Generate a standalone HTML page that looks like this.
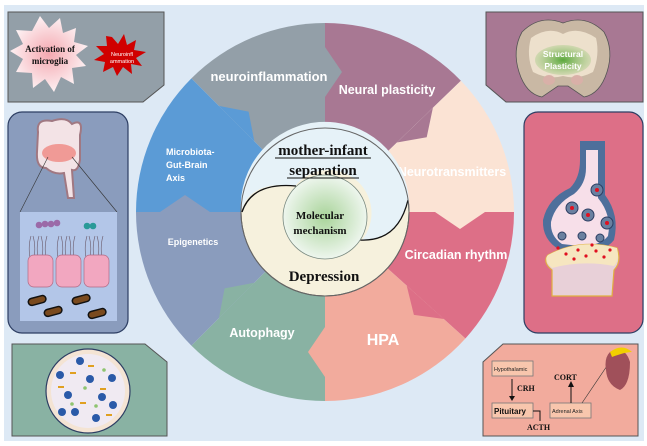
<!DOCTYPE html>
<html><head><meta charset="utf-8"><style>
html,body{margin:0;padding:0;background:#fff}
svg{display:block}
text{font-family:"Liberation Sans",sans-serif}
.w{fill:#fff;font-weight:bold}
.s{font-family:"Liberation Serif",serif;font-weight:bold;fill:#111}
</style></head><body>
<svg width="647" height="446" viewBox="0 0 647 446" xmlns="http://www.w3.org/2000/svg">
<defs>
<radialGradient id="g1" cx="50%" cy="50%" r="50%"><stop offset="0" stop-color="#a9d49a"/><stop offset="1" stop-color="#eef6ee"/></radialGradient>
<radialGradient id="mg" cx="50%" cy="50%" r="50%"><stop offset="0" stop-color="#f4a8b0"/><stop offset="1" stop-color="#fdf0f2"/></radialGradient>
<radialGradient id="sg" cx="50%" cy="50%" r="50%"><stop offset="0" stop-color="#5aa83c"/><stop offset="1" stop-color="#8fc470" stop-opacity="0.3"/></radialGradient>
</defs>
<rect x="0" y="0" width="647" height="446" fill="#fff"/>
<rect x="4" y="5" width="640" height="436" fill="#dde9f5"/>

<g>
<path d="M325,212 L191.4,78.4 A189,189 0 0 1 325,23 Z" fill="#939fa8"/>
<path d="M325,212 L325,23 A189,189 0 0 1 460.9,80.7 Z" fill="#a87893"/>
<path d="M325,212 L460.9,80.7 A189,189 0 0 1 514,212 Z" fill="#fbe3d4"/>
<path d="M325,212 L514,212 A189,189 0 0 1 465.4,338.5 Z" fill="#dd6f87"/>
<path d="M325,212 L465.4,338.5 A189,189 0 0 1 325,401 Z" fill="#f2ab9d"/>
<path d="M325,212 L325,401 A189,189 0 0 1 191.4,345.6 Z" fill="#89b2a3"/>
<path d="M325,212 L191.4,345.6 A189,189 0 0 1 136,212 Z" fill="#8a9cbd"/>
<path d="M325,212 L136,212 A189,189 0 0 1 191.4,78.4 Z" fill="#5b9bd6"/>
<polygon points="325,97 325,47 342,72" fill="#939fa8"/>
<polygon points="396.9,142.5 432.9,107.8 426.7,137.3" fill="#a87893"/>
<polygon points="435,212 485,212 460,229" fill="#fbe3d4"/>
<polygon points="406.7,285.6 443.9,319 413.9,314.9" fill="#dd6f87"/>
<polygon points="325,327 325,377 308,352" fill="#f2ab9d"/>
<polygon points="254.3,282.7 218.9,318.1 224.6,288.4" fill="#89b2a3"/>
<polygon points="210,212 160,212 185,195" fill="#8a9cbd"/>
<polygon points="254.3,141.3 218.9,105.9 248.6,111.6" fill="#5b9bd6"/>
</g>
<text class="w" x="269" y="81" font-size="13" text-anchor="middle">neuroinflammation</text>
<text class="w" x="387" y="94" font-size="12.5" text-anchor="middle">Neural plasticity</text>
<text class="w" x="452" y="176" font-size="12.5" text-anchor="middle">Neurotransmitters</text>
<text class="w" x="456" y="259" font-size="12.5" text-anchor="middle">Circadian rhythm</text>
<text class="w" x="383" y="345" font-size="16" text-anchor="middle">HPA</text>
<text class="w" x="262" y="337" font-size="12.5" text-anchor="middle">Autophagy</text>
<text class="w" x="193" y="245" font-size="9" text-anchor="middle">Epigenetics</text>
<text class="w" x="166" y="155" font-size="9">Microbiota-</text>
<text class="w" x="166" y="168" font-size="9">Gut-Brain</text>
<text class="w" x="166" y="181" font-size="9">Axis</text>

<circle cx="325" cy="212" r="84" fill="#f6f1dd" stroke="#555" stroke-width="1"/>
<path d="M241,212 Q250,180 295,186 A42,42 0 0 1 362,240 Q398,240 409,200 A84,84 0 0 0 241,212 Z" fill="#e6f2f8"/>
<path d="M242,212 Q252,182 296,186" fill="none" stroke="#111" stroke-width="1.3"/>
<path d="M360,240 Q398,242 408,200" fill="none" stroke="#111" stroke-width="1.3"/>
<circle cx="325" cy="212" r="84" fill="none" stroke="#666" stroke-width="1"/>
<circle cx="325" cy="217" r="42" fill="url(#g1)" stroke="#7a8a80" stroke-width="0.8"/>
<text class="s" x="323" y="155" font-size="15" text-anchor="middle">mother-infant</text>
<line x1="275" y1="158" x2="371" y2="158" stroke="#111"/>
<text class="s" x="323" y="175" font-size="15" text-anchor="middle">separation</text>
<line x1="287" y1="178" x2="359" y2="178" stroke="#111"/>
<text class="s" x="320" y="219" font-size="11" text-anchor="middle">Molecular</text>
<text class="s" x="320" y="234" font-size="11" text-anchor="middle">mechanism</text>
<text class="s" x="324" y="281" font-size="15" text-anchor="middle">Depression</text>

<!-- left top panel -->
<path d="M8,12 H164 V85 L143,102 H8 Z" fill="#939fa8" stroke="#555" stroke-width="1"/>
<polygon points="40,16 49,28 60,18 63,33 76,28 74,42 88,46 76,55 86,66 72,68 74,84 61,77 54,92 45,79 33,88 32,73 16,72 23,59 10,51 23,44 16,30 32,31" fill="url(#mg)"/>
<text x="50" y="52" font-size="9" class="s" text-anchor="middle">Activation of</text>
<text x="50" y="64" font-size="9" class="s" text-anchor="middle">microglia</text>
<polygon points="112,37 118,44 124,34 127,45 136,40 134,50 146,52 136,58 142,66 131,64 132,74 123,67 117,76 113,67 103,72 105,62 94,60 104,54 96,46 107,46 106,36" fill="#d00000"/>
<text x="122" y="56" font-size="5.5" fill="#fff" text-anchor="middle">Neuroinfl</text>
<text x="122" y="63" font-size="5.5" fill="#fff" text-anchor="middle">ammation</text>

<!-- left middle panel -->
<rect x="8" y="112" width="120" height="221" rx="14" fill="#8a9cbd" stroke="#2d3e63" stroke-width="1.2"/>
<path d="M38,132 Q36,118 52,121 Q66,116 72,124 Q84,118 80,135 L80,160 Q78,172 72,170 L74,198 L68,198 L64,173 Q54,175 46,168 Q36,168 37,152 Z" fill="#f3e3e6" stroke="#a07882" stroke-width="2"/>
<ellipse cx="59" cy="153" rx="17" ry="9" fill="#f09a96"/>
<line x1="48" y1="157" x2="20" y2="212" stroke="#333" stroke-width="0.6"/>
<line x1="72" y1="157" x2="117" y2="212" stroke="#333" stroke-width="0.6"/>
<rect x="20" y="212" width="97" height="109" fill="#b3c6e8"/>
<g fill="#9b6aa8"><circle cx="39" cy="225" r="3.3"/><circle cx="45" cy="224" r="3.3"/><circle cx="51" cy="224" r="3.3"/><circle cx="57" cy="223" r="3.3"/></g>
<g fill="#2a9a98"><circle cx="87" cy="226" r="3.3"/><circle cx="93" cy="226" r="3.3"/></g>
<g stroke="#6a5a6a" stroke-width="0.6" fill="none">
<path d="M30,258 q-2,-12 1,-22 M34,258 q2,-12 -1,-22 M38,258 q-2,-12 1,-22 M42,258 q2,-12 -1,-22 M46,258 q-2,-12 1,-22"/>
<path d="M58,258 q-2,-12 1,-22 M62,258 q2,-12 -1,-22 M66,258 q-2,-12 1,-22 M70,258 q2,-12 -1,-22 M74,258 q-2,-12 1,-22"/>
<path d="M86,258 q-2,-12 1,-22 M90,258 q2,-12 -1,-22 M94,258 q-2,-12 1,-22 M98,258 q2,-12 -1,-22 M102,258 q-2,-12 1,-22"/>
</g>
<g fill="#f2a7c0" stroke="#b06a85" stroke-width="0.7">
<rect x="28" y="255" width="25" height="32" rx="6"/><rect x="56" y="255" width="25" height="32" rx="6"/><rect x="84" y="255" width="25" height="32" rx="6"/>
</g>
<g fill="#7a4a1e" stroke="#111" stroke-width="1.5">
<rect x="28" y="297" width="18" height="7" rx="3.5" transform="rotate(-15 37 300)"/>
<rect x="72" y="296" width="18" height="7" rx="3.5" transform="rotate(-15 81 299)"/>
<rect x="44" y="308" width="18" height="7" rx="3.5" transform="rotate(-15 53 311)"/>
<rect x="88" y="310" width="18" height="7" rx="3.5" transform="rotate(-15 97 313)"/>
</g>

<!-- left bottom panel -->
<path d="M12,344 H145 L167,362 V436 H12 Z" fill="#89b2a3" stroke="#555" stroke-width="1"/>
<circle cx="88" cy="391" r="42" fill="#f4e4d4" stroke="#2d3e63" stroke-width="1.2"/>
<circle cx="88" cy="391" r="37" fill="#f0eaf2"/>
<g fill="#2a5aa8">
<circle cx="80" cy="361" r="4"/><circle cx="60" cy="375" r="4"/><circle cx="90" cy="379" r="4"/><circle cx="112" cy="378" r="4"/><circle cx="68" cy="395" r="4"/><circle cx="102" cy="397" r="4"/><circle cx="75" cy="412" r="4"/><circle cx="96" cy="418" r="4"/><circle cx="113" cy="405" r="4"/><circle cx="62" cy="412" r="4"/>
</g>
<g fill="#e0a020"><rect x="70" y="372" width="6" height="2"/><rect x="100" y="388" width="6" height="2"/><rect x="80" y="402" width="6" height="2"/><rect x="58" y="386" width="6" height="2"/><rect x="106" y="414" width="6" height="2"/><rect x="88" y="365" width="6" height="2"/></g>
<g fill="#8fc470"><circle cx="85" cy="388" r="1.8"/><circle cx="72" cy="404" r="1.8"/><circle cx="96" cy="406" r="1.8"/><circle cx="104" cy="370" r="1.8"/></g>

<!-- right top panel -->
<path d="M486,12 H643 V102 H506 L486,85 Z" fill="#a87893" stroke="#555" stroke-width="1"/>
<path d="M522,32 Q540,14 563,23 Q586,14 604,32 Q614,50 607,72 Q600,94 584,97 L568,86 L558,86 L542,97 Q526,94 519,72 Q512,50 522,32 Z" fill="#c9b8a4" stroke="#555" stroke-width="0.8"/>
<path d="M531,38 Q548,26 563,34 Q578,26 596,38 Q600,55 593,72 Q578,80 563,76 Q548,80 533,72 Q526,55 531,38 Z" fill="#ede0cc"/>
<ellipse cx="563" cy="60" rx="28" ry="15" fill="url(#sg)"/>
<ellipse cx="549" cy="80" rx="6" ry="5" fill="#d9b0a8"/><ellipse cx="577" cy="80" rx="6" ry="5" fill="#d9b0a8"/>
<text class="w" x="563" y="57" font-size="8.5" text-anchor="middle">Structural</text>
<text class="w" x="563" y="69" font-size="8.5" text-anchor="middle">Plasticity</text>

<!-- right middle panel -->
<rect x="524" y="112" width="119" height="221" rx="14" fill="#dd6f87" stroke="#2d3e63" stroke-width="1.2"/>
<path d="M580,141 H605 V195 Q620,215 614,240 Q605,252 580,252 L560,250 Q542,240 543,220 Q548,198 570,188 Q580,178 580,160 Z" fill="#4e6f9b"/>
<path d="M586,150 H598 V198 Q612,215 608,236 Q600,246 580,246 L562,244 Q550,236 551,222 Q555,204 574,194 Q586,184 586,168 Z" fill="#f7dfe9"/>
<g fill="#6a80a0" stroke="#2d3e63" stroke-width="1"><circle cx="597" cy="190" r="6"/><circle cx="572" cy="208" r="6"/><circle cx="588" cy="215" r="6"/><circle cx="607" cy="223" r="6"/><circle cx="562" cy="236" r="4"/><circle cx="582" cy="236" r="4"/><circle cx="600" cy="238" r="4"/></g>
<g fill="#e01020"><circle cx="597" cy="190" r="2"/><circle cx="572" cy="208" r="2"/><circle cx="588" cy="215" r="2"/><circle cx="607" cy="223" r="2"/></g>
<path d="M548,255 Q580,238 617,248 Q622,262 614,270 L612,296 H552 L552,270 Q542,262 548,255 Z" fill="#e8d0d8" stroke="#e0b040" stroke-width="1.2"/>
<path d="M548,255 Q580,238 617,248 Q620,260 614,266 Q582,260 552,268 Q543,260 548,255 Z" fill="#f6e6c0"/>
<g fill="#e01020"><circle cx="558" cy="248" r="1.6"/><circle cx="566" cy="254" r="1.6"/><circle cx="578" cy="250" r="1.6"/><circle cx="586" cy="256" r="1.6"/><circle cx="596" cy="251" r="1.6"/><circle cx="604" cy="257" r="1.6"/><circle cx="574" cy="259" r="1.6"/><circle cx="592" cy="245" r="1.6"/><circle cx="610" cy="250" r="1.6"/></g>

<!-- right bottom panel -->
<path d="M503,344 H638 V436 H483 V362 Z" fill="#f2ab9d" stroke="#555" stroke-width="1"/>
<rect x="492" y="361" width="41" height="15" fill="#f8c6ad" stroke="#777" stroke-width="0.8"/>
<text x="494" y="371" font-size="5.5" fill="#222">Hypothalamic</text>
<line x1="512" y1="379" x2="512" y2="398" stroke="#111"/><polygon points="509,396 515,396 512,401" fill="#111"/>
<text class="s" x="517" y="391" font-size="8" font-weight="normal">CRH</text>
<rect x="492" y="403" width="41" height="15" fill="#f8c6ad" stroke="#777" stroke-width="0.8"/>
<text x="494" y="414" font-size="8" fill="#111" font-weight="bold">Pituitary</text>
<path d="M533,411 H540 V421" fill="none" stroke="#111"/>
<text class="s" x="527" y="430" font-size="8" font-weight="normal">ACTH</text>
<rect x="550" y="403" width="41" height="15" fill="#f8c6ad" stroke="#777" stroke-width="0.8"/>
<text x="552" y="413" font-size="5.5" fill="#222">Adrenal Axis</text>
<line x1="571" y1="403" x2="571" y2="385" stroke="#111"/><polygon points="568,387 574,387 571,381" fill="#111"/>
<text class="s" x="554" y="380" font-size="8" font-weight="normal">CORT</text>
<line x1="582" y1="403" x2="611" y2="360" stroke="#333" stroke-width="0.6"/>
<path d="M610,352 Q625,345 630,362 Q630,385 620,390 Q607,385 606,370 Q604,358 610,352 Z" fill="#a0505a"/>
<path d="M610,352 Q622,343 632,352 Q625,352 612,357 Z" fill="#f2d000"/>
</svg>
</body></html>
